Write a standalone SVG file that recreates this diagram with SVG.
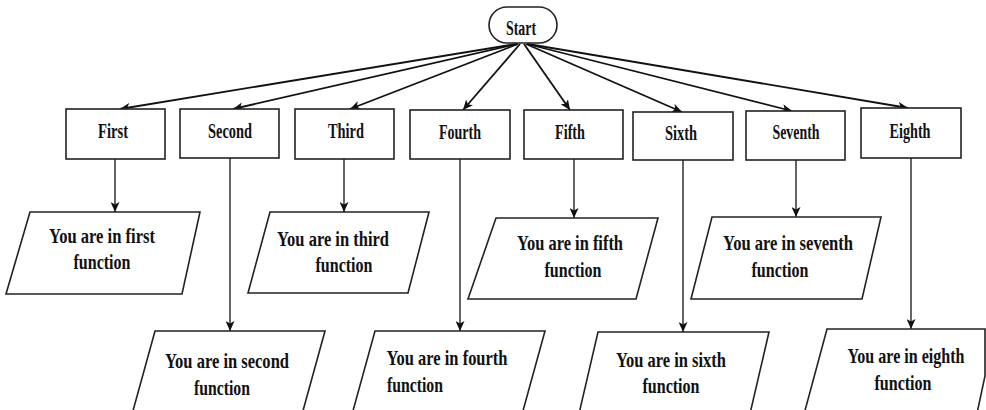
<svg xmlns="http://www.w3.org/2000/svg" width="986" height="410" viewBox="0 0 986 410">
<defs>
<marker id="ah" markerUnits="userSpaceOnUse" markerWidth="11" markerHeight="9" refX="10" refY="4.5" orient="auto">
<path d="M0,0 L10,4.5 L0,9 L2.5,4.5 z" fill="#111"/>
</marker>
<style>
.box{fill:#fff;stroke:#222;stroke-width:1.6}
.par{fill:#fff;stroke:#222;stroke-width:1.6}
.lbl{font-family:"Liberation Serif","Times New Roman",serif;font-weight:bold;font-size:20px;fill:#111;text-anchor:middle}
.pt{font-family:"Liberation Serif","Times New Roman",serif;font-weight:bold;font-size:22px;fill:#111;text-anchor:middle}
.c{stroke:#111;stroke-width:1.8;fill:none;marker-end:url(#ah)}
.v{stroke:#111;stroke-width:1.3;fill:none;marker-end:url(#ah)}
</style>
</defs>
<rect width="986" height="410" fill="#fff"/>
<g id="connectors">
<line class="c" x1="516" y1="44" x2="120" y2="109"/>
<line class="c" x1="517" y1="44" x2="233" y2="109"/>
<line class="c" x1="518" y1="44" x2="350" y2="109"/>
<line class="c" x1="520" y1="44" x2="463" y2="110"/>
<line class="c" x1="524" y1="44" x2="570" y2="110"/>
<line class="c" x1="526" y1="44" x2="682" y2="112"/>
<line class="c" x1="527" y1="44" x2="792" y2="111"/>
<line class="c" x1="528" y1="44" x2="908" y2="108"/>
<line class="v" x1="115" y1="159" x2="115" y2="212"/>
<line class="v" x1="230" y1="158" x2="230" y2="331"/>
<line class="v" x1="344" y1="159" x2="344" y2="212"/>
<line class="v" x1="460" y1="159" x2="460" y2="331"/>
<line class="v" x1="574" y1="159" x2="574" y2="218"/>
<line class="v" x1="683" y1="160" x2="683" y2="332"/>
<line class="v" x1="796" y1="160" x2="796" y2="217"/>
<line class="v" x1="911" y1="158" x2="911" y2="329"/>
</g>
<g id="start">
<rect class="box" x="489" y="7" width="68" height="36" rx="18" ry="18"/>
<text class="lbl" x="521" y="35" textLength="30" lengthAdjust="spacingAndGlyphs">Start</text>
</g>
<g id="first">
<rect class="box" x="66" y="109" width="99" height="50"/>
<text class="lbl" x="113" y="138" textLength="30" lengthAdjust="spacingAndGlyphs">First</text>
</g>
<g id="second">
<rect class="box" x="180" y="109" width="99" height="49"/>
<text class="lbl" x="230" y="138" textLength="44" lengthAdjust="spacingAndGlyphs">Second</text>
</g>
<g id="third">
<rect class="box" x="295" y="109" width="99" height="50"/>
<text class="lbl" x="346" y="138" textLength="36" lengthAdjust="spacingAndGlyphs">Third</text>
</g>
<g id="fourth">
<rect class="box" x="410" y="110" width="100" height="49"/>
<text class="lbl" x="460" y="139" textLength="42" lengthAdjust="spacingAndGlyphs">Fourth</text>
</g>
<g id="fifth">
<rect class="box" x="524" y="110" width="99" height="49"/>
<text class="lbl" x="570" y="139" textLength="30" lengthAdjust="spacingAndGlyphs">Fifth</text>
</g>
<g id="sixth">
<rect class="box" x="633" y="112" width="100" height="48"/>
<text class="lbl" x="681" y="140" textLength="32" lengthAdjust="spacingAndGlyphs">Sixth</text>
</g>
<g id="seventh">
<rect class="box" x="746" y="111" width="99" height="49"/>
<text class="lbl" x="796" y="139" textLength="47" lengthAdjust="spacingAndGlyphs">Seventh</text>
</g>
<g id="eighth">
<rect class="box" x="861" y="108" width="100" height="50"/>
<text class="lbl" x="910" y="138" textLength="41" lengthAdjust="spacingAndGlyphs">Eighth</text>
</g>
<g id="out-first">
<polygon class="par" points="30,212 200,212 182,294 6,294"/>
<text class="pt" x="102" y="243" textLength="106" lengthAdjust="spacingAndGlyphs">You are in first</text>
<text class="pt" x="102" y="269" textLength="57" lengthAdjust="spacingAndGlyphs">function</text>
</g>
<g id="out-third">
<polygon class="par" points="270,212 429,212 408,293 248,293"/>
<text class="pt" x="333" y="246" textLength="112" lengthAdjust="spacingAndGlyphs">You are in third</text>
<text class="pt" x="344" y="272" textLength="57" lengthAdjust="spacingAndGlyphs">function</text>
</g>
<g id="out-fifth">
<polygon class="par" points="496,218 658,218 636,299 468,299"/>
<text class="pt" x="570" y="250" textLength="106" lengthAdjust="spacingAndGlyphs">You are in fifth</text>
<text class="pt" x="573" y="277" textLength="57" lengthAdjust="spacingAndGlyphs">function</text>
</g>
<g id="out-seventh">
<polygon class="par" points="712,217 881,217 862,299 691,299"/>
<text class="pt" x="788" y="250" textLength="130" lengthAdjust="spacingAndGlyphs">You are in seventh</text>
<text class="pt" x="780" y="277" textLength="57" lengthAdjust="spacingAndGlyphs">function</text>
</g>
<g id="out-second">
<polygon class="par" points="155,331 325,331 301,418 131,418"/>
<text class="pt" x="227" y="368" textLength="124" lengthAdjust="spacingAndGlyphs">You are in second</text>
<text class="pt" x="222" y="395" textLength="56" lengthAdjust="spacingAndGlyphs">function</text>
</g>
<g id="out-fourth">
<polygon class="par" points="375,331 545,331 521,418 351,418"/>
<text class="pt" x="447" y="365" textLength="121" lengthAdjust="spacingAndGlyphs">You are in fourth</text>
<text class="pt" x="415" y="392" textLength="56" lengthAdjust="spacingAndGlyphs">function</text>
</g>
<g id="out-sixth">
<polygon class="par" points="598,332 769,332 749,418 578,418"/>
<text class="pt" x="671" y="367" textLength="110" lengthAdjust="spacingAndGlyphs">You are in sixth</text>
<text class="pt" x="671" y="393" textLength="57" lengthAdjust="spacingAndGlyphs">function</text>
</g>
<g id="out-eighth">
<polygon class="par" points="827,329 985,329 985,376 976,418 803,418"/>
<text class="pt" transform="translate(906,363) scale(0.73,1)" x="0" y="0">You are in eighth</text>
<text class="pt" transform="translate(903,390) scale(0.73,1)" x="0" y="0">function</text>
</g>
</svg>
